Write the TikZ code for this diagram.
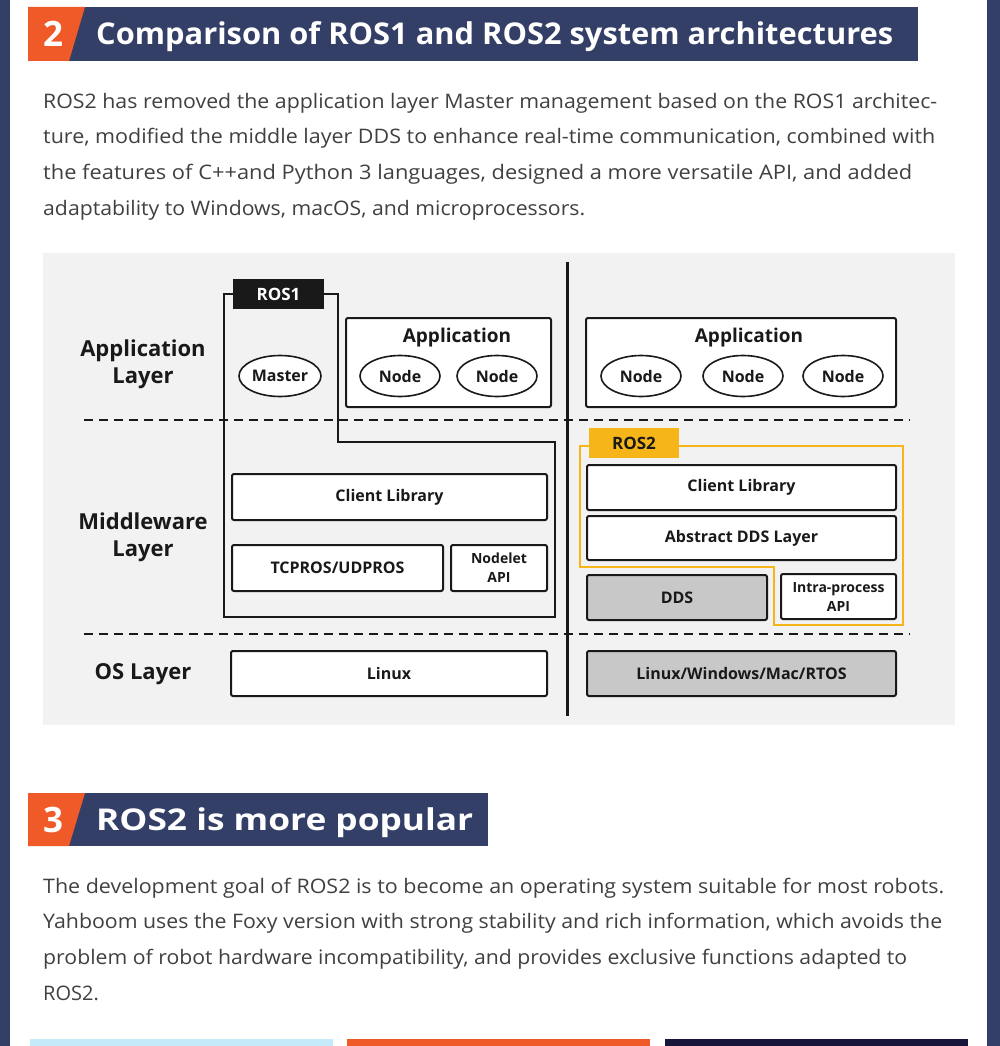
\documentclass[tikz,border=0pt]{standalone}
\usepackage{fontspec}
\setmainfont{Open Sans}
\usepackage{graphicx}
\definecolor{navy}{RGB}{52,63,103}
\definecolor{orangered}{RGB}{240,90,40}
\definecolor{panel}{RGB}{242,242,242}
\definecolor{bodygrey}{RGB}{64,64,64}
\definecolor{ink}{RGB}{25,25,25}
\definecolor{ros2yellow}{RGB}{246,182,26}
\definecolor{boxgrey}{RGB}{200,200,200}
\definecolor{lightblue}{RGB}{197,234,249}
\definecolor{darknavy}{RGB}{22,22,58}
\newcommand{\fitw}[2]{\resizebox{#1}{\height}{#2}}
\tikzset{
  bodyline/.style={anchor=west, inner sep=0pt, text=bodygrey, font=\fontsize{20}{24}\selectfont, text height=15pt, text depth=4pt},
  headtext/.style={anchor=west, inner sep=0pt, text=white, font=\bfseries\fontsize{30}{34}\selectfont, text height=22pt, text depth=0pt},
  headnum/.style={inner sep=0pt, text=white, font=\bfseries\fontsize{35}{38}\selectfont, text height=25pt, text depth=0pt},
  layerlabel/.style={inner sep=0pt, align=center, text=ink, font=\bfseries\fontsize{22}{28}\selectfont},
  archbox/.style={draw=ink, line width=2pt, rounded corners=2pt, fill=white, inner sep=0pt, align=center, text=ink, font=\bfseries\fontsize{16}{18}\selectfont},
  greybox/.style={archbox, fill=boxgrey},
  smalltext/.style={font=\bfseries\fontsize{14}{19}\selectfont},
  nodeell/.style={ellipse, draw=ink, line width=1.6pt, fill=white, minimum width=80pt, minimum height=41pt, inner sep=0pt, text=ink, font=\bfseries\fontsize{16}{18}\selectfont},
  layerdash/.style={draw=ink, line width=2.6pt, dash pattern=on 9pt off 6pt},
  tagbox/.style={inner sep=0pt, font=\bfseries\fontsize{17}{18}\selectfont},
}
\usetikzlibrary{shapes.geometric}
\begin{document}
\begin{tikzpicture}[x=1pt,y=-1pt]
\useasboundingbox (0,0) rectangle (1000,1046);
\fill[white] (0,0) rectangle (1000,1046);
% page side bars
\fill[navy] (0,0) rectangle (10,1046);
\fill[navy] (987,0) rectangle (1000,1046);

% ---- header 2
\fill[navy] (28,7) rectangle (918,61);
\fill[orangered] (28,7) -- (85,7) -- (69,61) -- (28,61) -- cycle;
\node[headnum] (h2num) at (53,34) {2};
\node[headtext] (h2) at (96,34) {\fitw{797pt}{Comparison of ROS1 and ROS2 system architectures}};

% ---- paragraph 1
\node[bodyline] (p1a) at (43,103) {\fitw{894pt}{ROS2 has removed the application layer Master management based on the ROS1 architec-}};
\node[bodyline] (p1b) at (43,138) {\fitw{892pt}{ture, modified the middle layer DDS to enhance real-time communication, combined with}};
\node[bodyline] (p1c) at (43,174) {\fitw{869pt}{the features of C++and Python 3 languages, designed a more versatile API, and added}};
\node[bodyline] (p1d) at (43,210) {\fitw{542pt}{adaptability to Windows, macOS, and microprocessors.}};

% ---- diagram panel
\fill[panel] (43,253) rectangle (955,725);

% divider and layer separators
\coordinate (divtop) at (567,262);
\coordinate (divbot) at (567,716);
\draw[ink, line width=3pt] (divtop) -- (divbot);
\coordinate (d1l) at (84,420);
\coordinate (d1r) at (910,420);
\coordinate (d2l) at (84,634);
\coordinate (d2r) at (910,634);
\draw[layerdash] (d1l) -- (d1r);
\draw[layerdash] (d2l) -- (d2r);

% layer labels
\node[layerlabel] (lapp) at (143,364) {Application\\[-1pt]Layer};
\node[layerlabel] (lmid) at (143,537) {Middleware\\[-1pt]Layer};
\node[layerlabel] (los) at (143,674) {OS Layer};

% ROS1 outline
\draw[ink, line width=2.4pt, line join=miter] (224,294) -- (338,294) -- (338,442) -- (555,442) -- (555,617) -- (224,617) -- cycle;
\node[tagbox, fill=ink, text=white, minimum width=91pt, minimum height=30pt] (ros1) at (278.5,294) {ROS1};

% ROS2 outline
\draw[ros2yellow, line width=2.2pt] (580,446) -- (903,446) -- (903,625) -- (774,625) -- (774,567) -- (580,567) -- cycle;
\node[tagbox, fill=ros2yellow, text=ink, minimum width=90pt, minimum height=30pt] (ros2) at (634,443) {ROS2};

% ROS1 application
\node[nodeell, minimum width=82pt] (master) at (280,376) {Master};
\node[archbox, minimum width=205pt, minimum height=89pt] (app1) at (448.5,362.5) {};
\node[inner sep=0pt, text=ink, font=\bfseries\fontsize{19}{22}\selectfont] (app1t) at (457,338) {Application};
\node[nodeell] (n11) at (400,376) {Node};
\node[nodeell] (n12) at (497,376) {Node};

% ROS1 middleware / OS
\node[archbox, minimum width=315pt, minimum height=46pt] (cl1) at (389.5,497) {Client Library};
\node[archbox, minimum width=211pt, minimum height=46pt] (tcp) at (337.5,568) {TCPROS/UDPROS};
\node[archbox, smalltext, minimum width=96pt, minimum height=46pt] (nodelet) at (499,568) {Nodelet\\API};
\node[archbox, minimum width=316pt, minimum height=45pt] (linux) at (389,673.5) {Linux};

% ROS2 application
\node[archbox, minimum width=310pt, minimum height=89pt] (app2) at (741,362.5) {};
\node[inner sep=0pt, text=ink, font=\bfseries\fontsize{19}{22}\selectfont] (app2t) at (749,338) {Application};
\node[nodeell] (n21) at (641,376) {Node};
\node[nodeell] (n22) at (743,376) {Node};
\node[nodeell] (n23) at (843,376) {Node};

% ROS2 middleware / OS
\node[archbox, minimum width=309pt, minimum height=45pt] (cl2) at (741.5,487.5) {Client Library};
\node[archbox, minimum width=309pt, minimum height=44pt] (adds) at (741.5,538) {Abstract DDS Layer};
\node[greybox, minimum width=180pt, minimum height=45pt] (dds) at (677,597.5) {DDS};
\node[archbox, smalltext, minimum width=115pt, minimum height=45pt] (intra) at (838.5,596.5) {Intra-process\\API};
\node[greybox, minimum width=309pt, minimum height=45pt] (os2) at (741.5,673.5) {Linux/Windows/Mac/RTOS};

% ---- header 3
\fill[navy] (28,793) rectangle (488,846);
\fill[orangered] (28,793) -- (85,793) -- (69,846) -- (28,846) -- cycle;
\node[headnum] (h3num) at (53,819.5) {3};
\node[headtext] (h3) at (96,819.5) {\fitw{377pt}{ROS2 is more popular}};

% ---- paragraph 2
\node[bodyline] (p2a) at (43,888) {\fitw{901pt}{The development goal of ROS2 is to become an operating system suitable for most robots.}};
\node[bodyline] (p2b) at (43,923) {\fitw{899pt}{Yahboom uses the Foxy version with strong stability and rich information, which avoids the}};
\node[bodyline] (p2c) at (43,959) {\fitw{864pt}{problem of robot hardware incompatibility, and provides exclusive functions adapted to}};
\node[bodyline] (p2d) at (43,995) {ROS2.};

% ---- bottom strips
\fill[lightblue] (30,1039) rectangle (333,1046);
\fill[orangered] (347,1039) rectangle (650,1046);
\fill[darknavy] (665,1039) rectangle (968,1046);
\end{tikzpicture}
\end{document}
